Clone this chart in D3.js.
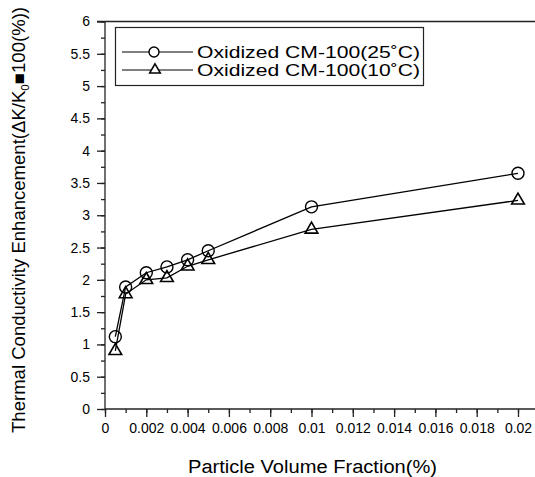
<!DOCTYPE html>
<html>
<head>
<meta charset="utf-8">
<script src="https://cdn.jsdelivr.net/npm/d3@7"></script>
<style>
  body { margin: 0; background: #fff; }
  svg { font-family: 'Liberation Sans', Arial, sans-serif; }
</style>
</head>
<body>
<div id="chart"></div>
<script>
const fractions = [0.0005, 0.001, 0.002, 0.003, 0.004, 0.005, 0.01, 0.02]
const enh25 = [1.12, 1.89, 2.11, 2.2, 2.31, 2.45, 3.13, 3.65]
const enh10 = [0.9, 1.78, 2.0, 2.03, 2.21, 2.31, 2.78, 3.23]
const xTicks = [0, 0.002, 0.004, 0.006, 0.008, 0.01, 0.012, 0.014, 0.016, 0.018, 0.02]
const yTicks = [0, 0.5, 1, 1.5, 2, 2.5, 3, 3.5, 4, 4.5, 5, 5.5, 6]
const seriesNames = ['Oxidized CM-100(25˚C)', 'Oxidized CM-100(10˚C)']

const W = 535
const H = 477
const margin = { top: 21.5, right: 17, bottom: 68, left: 105 }

const svg = d3.select('#chart')
  .append('svg')
  .attr('width', W)
  .attr('height', H)

const x = d3.scaleLinear()
  .domain([0, 0.02])
  .range([margin.left, W - margin.right])

const y = d3.scaleLinear()
  .domain([0, 6])
  .range([H - margin.bottom, margin.top])

const fmt = d => String(+d.toFixed(3))

// minor ticks
svg.append('g')
  .attr('transform', `translate(0,${y(0)})`)
  .call(d3.axisBottom(x).tickValues(d3.range(0, 0.0205, 0.001)).tickSize(4).tickFormat('').tickSizeOuter(0))
  .call(g => g.select('.domain').remove())

svg.append('g')
  .attr('transform', `translate(${x(0)},0)`)
  .call(d3.axisLeft(y).tickValues(d3.range(0, 6.01, 0.25)).tickSize(4).tickFormat('').tickSizeOuter(0))
  .call(g => g.select('.domain').remove())

// major ticks
svg.append('g')
  .attr('transform', `translate(0,${y(0)})`)
  .call(d3.axisBottom(x).tickValues(xTicks).tickSize(8).tickPadding(6).tickFormat(fmt).tickSizeOuter(0))
  .call(g => g.select('.domain').remove())
  .call(g => g.attr('font-size', 14).attr('font-family', null))
  .selectAll('text')
  .attr('fill', '#000')

svg.append('g')
  .attr('transform', `translate(${x(0)},0)`)
  .call(d3.axisLeft(y).tickValues(yTicks).tickSize(8).tickPadding(7).tickFormat(d => d).tickSizeOuter(0))
  .call(g => g.select('.domain').remove())
  .call(g => g.attr('font-size', 14).attr('font-family', null))
  .selectAll('text')
  .attr('fill', '#000')

svg.selectAll('.tick line').attr('stroke', '#222').attr('stroke-width', 1.3)

// axis lines: left, bottom and top
svg.append('line')
  .attr('x1', x(0)).attr('x2', x(0))
  .attr('y1', y(0)).attr('y2', y(6))
  .attr('stroke', '#222').attr('stroke-width', 1.3)
svg.append('line')
  .attr('x1', x(0)).attr('x2', W)
  .attr('y1', y(0)).attr('y2', y(0))
  .attr('stroke', '#222').attr('stroke-width', 1.3)
svg.append('line')
  .attr('x1', x(0) - 8).attr('x2', W)
  .attr('y1', y(6)).attr('y2', y(6))
  .attr('stroke', '#222').attr('stroke-width', 1.3)

// axis titles
svg.append('text')
  .attr('x', 188)
  .attr('y', 473)
  .attr('font-size', 18)
  .attr('textLength', 249)
  .attr('lengthAdjust', 'spacingAndGlyphs')
  .text('Particle Volume Fraction(%)')

const yTitle = svg.append('text')
  .attr('transform', `translate(25,433) rotate(-90)`)
  .attr('font-size', 17.5)
  .attr('textLength', 426)
  .attr('lengthAdjust', 'spacingAndGlyphs')
yTitle.append('tspan').text('Thermal Conductivity Enhancement(ΔK/K')
yTitle.append('tspan').attr('font-size', 11).attr('dy', 4).text('0')
yTitle.append('tspan').attr('dy', -4).text('■100(%))')

// series
const line = d3.line()
  .x((d, i) => x(fractions[i]))
  .y(d => y(d))

const tri = d3.symbol().type(d3.symbolTriangle).size(70)

function drawSeries (values, marker) {
  svg.append('path')
    .datum(values)
    .attr('fill', 'none')
    .attr('stroke', '#000')
    .attr('stroke-width', 1.3)
    .attr('d', line)

  values.forEach((v, i) => {
    if (marker === 'circle') {
      svg.append('circle')
        .attr('cx', x(fractions[i]))
        .attr('cy', y(v))
        .attr('r', 6)
        .attr('fill', 'none')
        .attr('stroke', '#000')
        .attr('stroke-width', 1.4)
    } else {
      svg.append('path')
        .attr('transform', `translate(${x(fractions[i])},${y(v)})`)
        .attr('d', tri)
        .attr('fill', 'none')
        .attr('stroke', '#000')
        .attr('stroke-width', 1.6)
    }
  })
}

drawSeries(enh25, 'circle')
drawSeries(enh10, 'triangle')

// legend
const legend = svg.append('g')
legend.append('rect')
  .attr('x', 115.5).attr('y', 27.5)
  .attr('width', 308).attr('height', 58)
  .attr('fill', '#fff')
  .attr('stroke', '#222')
  .attr('stroke-width', 1.2)

seriesNames.forEach((name, i) => {
  const ly = 52 + i * 18
  legend.append('line')
    .attr('x1', 122).attr('x2', 193)
    .attr('y1', ly).attr('y2', ly)
    .attr('stroke', '#000').attr('stroke-width', 1.2)
  if (i === 0) {
    legend.append('circle')
      .attr('cx', 154).attr('cy', ly).attr('r', 5)
      .attr('fill', '#fff').attr('stroke', '#000').attr('stroke-width', 1.4)
  } else {
    legend.append('path')
      .attr('transform', `translate(155,${ly})`)
      .attr('d', d3.symbol().type(d3.symbolTriangle).size(50))
      .attr('fill', '#fff').attr('stroke', '#000').attr('stroke-width', 1.5)
  }
  legend.append('text')
    .attr('x', 197)
    .attr('y', ly + 6)
    .attr('font-size', 16.5)
    .attr('textLength', 223)
    .attr('lengthAdjust', 'spacingAndGlyphs')
    .text(name)
})
</script>
</body>
</html>
